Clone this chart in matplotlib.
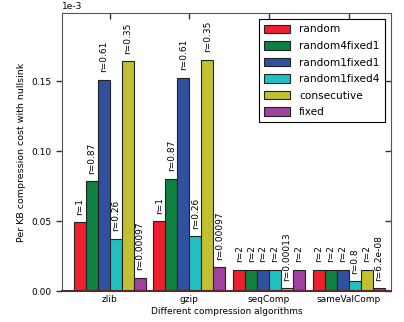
import matplotlib.pyplot as plt
import numpy as np

# Data (values in units of 1e-3)
algorithms = ['zlib', 'gzip', 'seqComp', 'sameValComp']
series = ['random', 'random4fixed1', 'random1fixed1', 'random1fixed4', 'consecutive', 'fixed']
colors = ['#ee2030', '#0e8040', '#3050a0', '#20c0c0', '#c0c030', '#a040a0']

costs = {
    'random':        [0.0493, 0.0500, 0.0150, 0.0150],
    'random4fixed1': [0.0786, 0.0805, 0.0150, 0.0150],
    'random1fixed1': [0.1512, 0.1524, 0.0150, 0.0150],
    'random1fixed4': [0.0376, 0.0393, 0.0150, 0.0071],
    'consecutive':   [0.1643, 0.1655, 0.0020, 0.0150],
    'fixed':         [0.0096, 0.0171, 0.0150, 0.0020],
}
ratios = {
    'random':        ['1', '1', '2', '2'],
    'random4fixed1': ['0.87', '0.87', '2', '2'],
    'random1fixed1': ['0.61', '0.61', '2', '2'],
    'random1fixed4': ['0.26', '0.26', '2', '0.8'],
    'consecutive':   ['0.35', '0.35', '0.00013', '2'],
    'fixed':         ['0.00097', '0.00097', '2', '6.2e-08'],
}


def plot():
    plt.rcParams['font.family'] = 'DejaVu Sans'
    plt.rcParams['axes.unicode_minus'] = False
    fig = plt.figure(figsize=(4.04, 3.22), dpi=100)
    ax = fig.add_axes([0.153, 0.096, 0.815, 0.864])

    x = np.arange(len(algorithms))
    width = 0.15
    for i, name in enumerate(series):
        vals = np.array(costs[name]) * 1e-3
        pos = x + (i - 2.5) * width
        ax.bar(pos, vals, width, color=colors[i], edgecolor='#222222',
               linewidth=0.8, label=name)
        for px, v, r in zip(pos, vals, ratios[name]):
            ax.annotate('r=' + r, (px, v), xytext=(0, 5.5), textcoords='offset points',
                        rotation=90, ha='center', va='bottom', fontsize=6.5)

    ax.set_xlim(-0.6, 3.53)
    ax.set_ylim(0, 0.000199)
    ax.set_xticks(x)
    ax.set_xticklabels(algorithms, fontsize=6.5)
    ax.set_yticks([0, 0.00005, 0.0001, 0.00015])
    ax.ticklabel_format(axis='y', style='sci', scilimits=(-3, -3))
    ax.yaxis.get_offset_text().set_fontsize(6.5)
    ax.tick_params(axis='y', labelsize=6.5, direction='out', length=4, width=1,
                   color='#333333', right=True)
    ax.tick_params(axis='x', bottom=False, top=True, direction='in', length=4,
                   width=1, color='#333333', pad=3)

    # right ticks point inward
    for t in ax.yaxis.get_major_ticks():
        t.tick2line.set_marker(0)
        t.tick2line.set_markersize(4)

    ax.spines['bottom'].set_color('#5a2a2a')
    ax.spines['bottom'].set_linewidth(1.5)
    for s in ['left', 'top', 'right']:
        ax.spines[s].set_color('#555555')

    ax.set_ylabel('Per KB compression cost with nullsink', fontsize=6.8, labelpad=4)
    ax.set_xlabel('Different compression algorithms', fontsize=6.5, labelpad=2)

    leg = ax.legend(loc='upper right', fontsize=7.6, fancybox=False,
                    edgecolor='black', framealpha=1, handlelength=2.4,
                    handleheight=0.85, handletextpad=0.9, borderaxespad=0.6,
                    labelspacing=0.62, borderpad=0.5)
    leg.get_frame().set_linewidth(0.8)

    plt.savefig('out.png', dpi=100)


if __name__ == '__main__':
    plot()
